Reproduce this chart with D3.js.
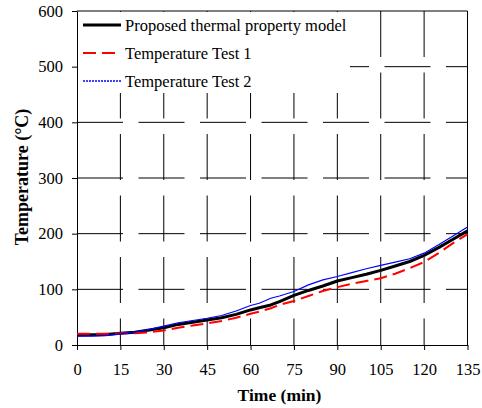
<!DOCTYPE html>
<html><head><meta charset="utf-8">
<script src="https://cdn.jsdelivr.net/npm/d3@7"></script>
<style>body{margin:0;background:#fff} svg{display:block}</style></head>
<body>
<script>
const timeMin   = [0, 5, 10, 15, 20, 25, 30, 35, 40, 45, 50, 55, 60, 63, 67, 70, 75, 80, 85, 90, 95, 100, 105, 110, 115, 120, 125, 130, 135];
const modelTemp = [18, 18.5, 19, 21, 23, 27, 31, 37, 41, 45, 49, 55, 63, 67, 72, 78, 89, 98, 106, 115, 121, 127, 134, 142, 150, 161, 175, 190, 205];
const test1Temp = [20, 20, 20, 21, 21, 23, 26, 31, 35, 39, 43, 49, 56, 60, 66, 72, 79, 88, 97, 104, 110, 115, 120, 128, 138, 149, 165, 183, 199];
const test2Temp = [16, 16, 17, 20, 23, 28, 34, 40, 44, 48, 53, 61, 71, 75, 84, 88, 96, 108, 117, 123, 130, 137, 143, 149, 155, 165, 180, 196, 212];
const xTicks = [0, 15, 30, 45, 60, 75, 90, 105, 120, 135];
const yTicks = [0, 100, 200, 300, 400, 500, 600];
const seriesNames = ["Proposed thermal property model", "Temperature Test 1", "Temperature Test 2"];
const xTitle = "Time (min)";
const yTitle = "Temperature (°C)";

const W = 482, H = 408;
const serif = "'Liberation Serif','Times New Roman',serif";
const svg = d3.select("body").append("svg").attr("width", W).attr("height", H)
  .style("font-family", serif);

const x = d3.scaleLinear().domain([0, 135]).range([77, 467.5]);
const y = d3.scaleLinear().domain([0, 600]).range([345, 11]);

// grid
const grid = svg.append("g").attr("stroke", "#000").attr("stroke-width", 1).attr("stroke-dasharray", "46,15.5");
grid.selectAll("line.h").data(yTicks.slice(1, -1)).join("line").attr("class", "h")
  .attr("x1", x(0)).attr("x2", x(135)).attr("y1", d => y(d)).attr("y2", d => y(d));
grid.selectAll("line.v").data(xTicks.slice(1, -1)).join("line").attr("class", "v")
  .attr("x1", d => x(d)).attr("x2", d => x(d)).attr("y1", y(600)).attr("y2", y(0));

// legend background
svg.append("rect").attr("x", 78).attr("y", 12).attr("width", 272).attr("height", 81).attr("fill", "#fff");

// frame top/right
svg.append("line").attr("x1", x(0)).attr("x2", x(135)).attr("y1", y(600)).attr("y2", y(600)).attr("stroke", "#000");
svg.append("line").attr("x1", x(135)).attr("x2", x(135)).attr("y1", y(600)).attr("y2", y(0)).attr("stroke", "#000");

// axes
const ax = svg.append("g").attr("transform", `translate(0,${y(0)})`)
  .call(d3.axisBottom(x).tickValues(xTicks).tickSize(5).tickSizeOuter(0).tickPadding(13));
const ay = svg.append("g").attr("transform", `translate(${x(0)},0)`)
  .call(d3.axisLeft(y).tickValues(yTicks).tickSize(5).tickSizeOuter(0).tickPadding(9));
[ax, ay].forEach(g => {
  g.attr("font-family", serif).attr("font-size", 16.5);
  g.selectAll("path,line").attr("stroke", "#000");
  g.selectAll("text").attr("fill", "#000");
});

// series
const line = vals => d3.line().x((d, i) => x(timeMin[i])).y(d => y(d))(vals);
svg.append("path").attr("d", line(modelTemp)).attr("fill", "none").attr("stroke", "#000").attr("stroke-width", 3).attr("stroke-linejoin", "round");
svg.append("path").attr("d", line(test1Temp)).attr("fill", "none").attr("stroke", "#ff0000").attr("stroke-width", 2).attr("stroke-dasharray", "13,6");
svg.append("path").attr("d", line(test2Temp)).attr("fill", "none").attr("stroke", "#0000ff").attr("stroke-width", 1.2);

// legend
const legStyles = [
  {stroke: "#000", w: 3, dash: null},
  {stroke: "#ff0000", w: 2, dash: "13,6"},
  {stroke: "#0000ff", w: 1.5, dash: "2,1"}
];
const legRows = [25, 53, 81];
seriesNames.forEach((name, i) => {
  const s = legStyles[i];
  svg.append("line").attr("x1", 83).attr("x2", 121).attr("y1", legRows[i]).attr("y2", legRows[i])
    .attr("stroke", s.stroke).attr("stroke-width", s.w).attr("stroke-dasharray", s.dash);
  svg.append("text").attr("x", 125).attr("y", legRows[i] + 6).text(name)
    .style("font-size", "16.5px").attr("fill", "#000");
});

// titles
svg.append("text").attr("x", 279.5).attr("y", 401).attr("text-anchor", "middle")
  .style("font-size", "17.5px").style("font-weight", "bold").text(xTitle);
svg.append("text").attr("transform", "translate(28,177) rotate(-90)").attr("text-anchor", "middle")
  .style("font-size", "18px").style("font-weight", "bold").text(yTitle);
</script>
</body></html>
